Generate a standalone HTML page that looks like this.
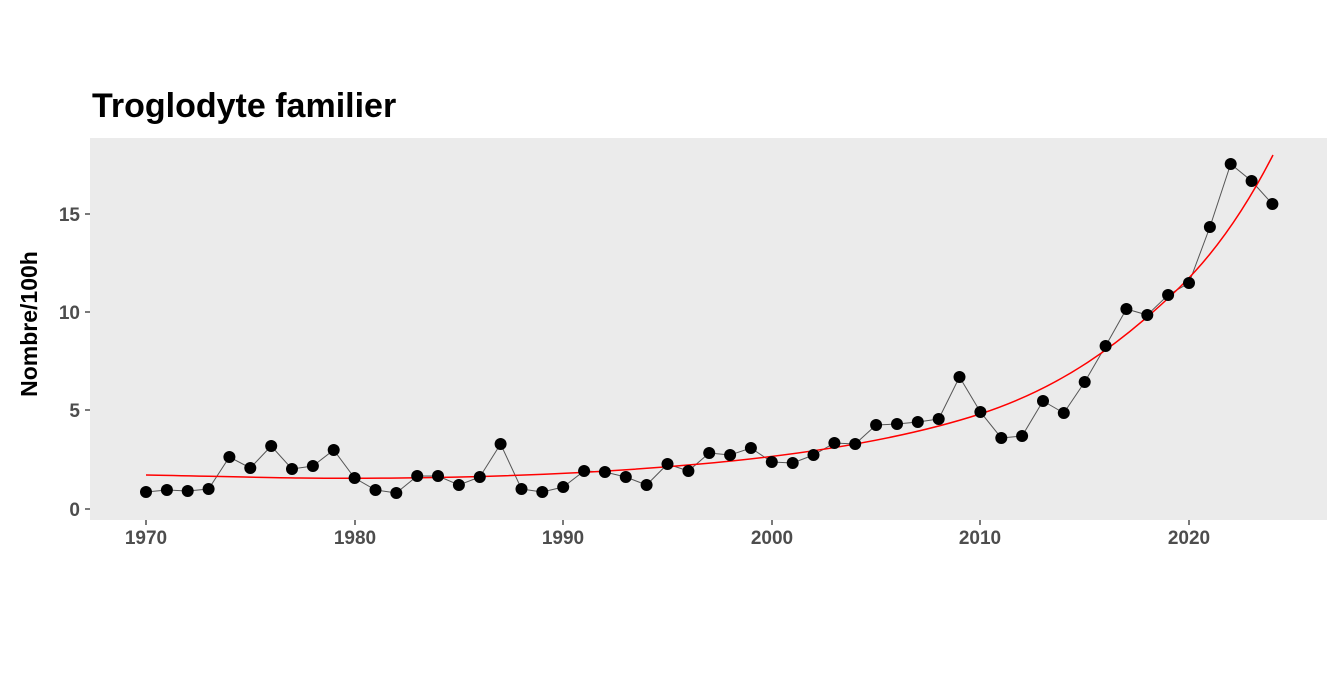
<!DOCTYPE html>
<html><head><meta charset="utf-8"><style>body{margin:0;background:#fff}</style></head>
<body>
<svg width="1344" height="672" xmlns="http://www.w3.org/2000/svg" font-family="Liberation Sans, sans-serif">
<rect width="1344" height="672" fill="#fff"/>
<text x="92" y="117" font-size="34" font-weight="bold" fill="#000">Troglodyte familier</text>
<rect x="90" y="138" width="1237" height="382" fill="#ebebeb"/>
<g stroke="#333" stroke-width="1.3">
<line x1="85" y1="509" x2="90" y2="509"/><line x1="85" y1="410" x2="90" y2="410"/><line x1="85" y1="312" x2="90" y2="312"/><line x1="85" y1="214" x2="90" y2="214"/>
<line x1="146" y1="520" x2="146" y2="525"/><line x1="355" y1="520" x2="355" y2="525"/><line x1="563" y1="520" x2="563" y2="525"/><line x1="772" y1="520" x2="772" y2="525"/><line x1="980" y1="520" x2="980" y2="525"/><line x1="1189" y1="520" x2="1189" y2="525"/>
</g>
<g font-size="19" font-weight="bold" fill="#4d4d4d" text-anchor="end">
<text x="80" y="516">0</text><text x="80" y="417">5</text><text x="80" y="319">10</text><text x="80" y="221">15</text>
</g>
<g font-size="19" font-weight="bold" fill="#4d4d4d" text-anchor="middle">
<text x="146" y="544">1970</text><text x="355" y="544">1980</text><text x="563" y="544">1990</text><text x="772" y="544">2000</text><text x="980" y="544">2010</text><text x="1189" y="544">2020</text>
</g>
<text transform="translate(37,324) rotate(-90)" font-size="23" font-weight="bold" text-anchor="middle">Nombre/100h</text>
<polyline fill="none" stroke="#555" stroke-width="1" points="146,492 166.9,490 187.7,491 208.6,489 229.4,457 250.3,468 271.2,446 292,469 312.9,466 333.7,450 354.6,478 375.5,490 396.3,493 417.2,476 438,476 458.9,485 479.8,477 500.6,444 521.5,489 542.3,492 563.2,487 584.1,471 604.9,472 625.8,477 646.6,485 667.5,464 688.4,471 709.2,453 730.1,455 750.9,448 771.8,462 792.7,463 813.5,455 834.4,443 855.2,444 876.1,425 897,424 917.8,422 938.7,419 959.5,377 980.4,412 1001.3,438 1022.1,436 1043,401 1063.8,413 1084.7,382 1105.6,346 1126.4,309 1147.3,315 1168.1,295 1189,283 1209.9,227 1230.7,164 1251.6,181 1272.4,204"/>
<path fill="none" stroke="#f00" stroke-width="1.5" d="M146,475 C250,477 300,479 400,478 C500,477 600,473 700,464 C800,455 900,440 980,414 C1060,388 1120,345 1180,287 C1220,248 1250,200 1273,155"/>
<g fill="#000">
<circle cx="146" cy="492" r="6"/><circle cx="166.9" cy="490" r="6"/><circle cx="187.7" cy="491" r="6"/><circle cx="208.6" cy="489" r="6"/><circle cx="229.4" cy="457" r="6"/><circle cx="250.3" cy="468" r="6"/><circle cx="271.2" cy="446" r="6"/><circle cx="292" cy="469" r="6"/><circle cx="312.9" cy="466" r="6"/><circle cx="333.7" cy="450" r="6"/><circle cx="354.6" cy="478" r="6"/><circle cx="375.5" cy="490" r="6"/><circle cx="396.3" cy="493" r="6"/><circle cx="417.2" cy="476" r="6"/><circle cx="438" cy="476" r="6"/><circle cx="458.9" cy="485" r="6"/><circle cx="479.8" cy="477" r="6"/><circle cx="500.6" cy="444" r="6"/><circle cx="521.5" cy="489" r="6"/><circle cx="542.3" cy="492" r="6"/><circle cx="563.2" cy="487" r="6"/><circle cx="584.1" cy="471" r="6"/><circle cx="604.9" cy="472" r="6"/><circle cx="625.8" cy="477" r="6"/><circle cx="646.6" cy="485" r="6"/><circle cx="667.5" cy="464" r="6"/><circle cx="688.4" cy="471" r="6"/><circle cx="709.2" cy="453" r="6"/><circle cx="730.1" cy="455" r="6"/><circle cx="750.9" cy="448" r="6"/><circle cx="771.8" cy="462" r="6"/><circle cx="792.7" cy="463" r="6"/><circle cx="813.5" cy="455" r="6"/><circle cx="834.4" cy="443" r="6"/><circle cx="855.2" cy="444" r="6"/><circle cx="876.1" cy="425" r="6"/><circle cx="897" cy="424" r="6"/><circle cx="917.8" cy="422" r="6"/><circle cx="938.7" cy="419" r="6"/><circle cx="959.5" cy="377" r="6"/><circle cx="980.4" cy="412" r="6"/><circle cx="1001.3" cy="438" r="6"/><circle cx="1022.1" cy="436" r="6"/><circle cx="1043" cy="401" r="6"/><circle cx="1063.8" cy="413" r="6"/><circle cx="1084.7" cy="382" r="6"/><circle cx="1105.6" cy="346" r="6"/><circle cx="1126.4" cy="309" r="6"/><circle cx="1147.3" cy="315" r="6"/><circle cx="1168.1" cy="295" r="6"/><circle cx="1189" cy="283" r="6"/><circle cx="1209.9" cy="227" r="6"/><circle cx="1230.7" cy="164" r="6"/><circle cx="1251.6" cy="181" r="6"/><circle cx="1272.4" cy="204" r="6"/>
</g>
</svg>
</body></html>
